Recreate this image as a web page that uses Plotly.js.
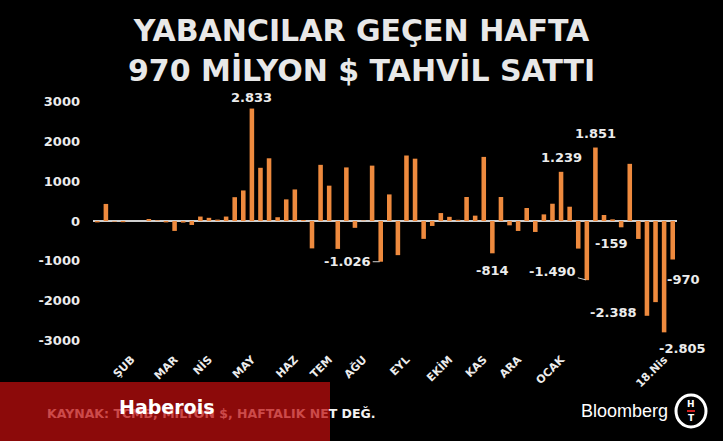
<!DOCTYPE html>
<html>
<head>
<meta charset="utf-8">
<script src="https://cdn.plot.ly/plotly-3.0.1.min.js"></script>
<style>
  html, body { margin: 0; padding: 0; background: #000; }
  #chart { width: 723px; height: 441px; }
</style>
</head>
<body>
<div id="chart"></div>
<script>
// Weekly net foreign bond flows, million $
const values = [
  -35, 430, -15, -30, 0, 0, 50, 15, -35, -250,
  -40, -100, 112, 80, 35, 112, 600, 770, 2833, 1340,
  1580, 95, 545, 795, 25, -690, 1415, 890, -703, 1350,
  -172, 10, 1395, -1026, 670, -860, 1650, 1570, -450, -125,
  200, 105, 30, 605, 135, 1615, -814, 605, -109, -251,
  327, -276, 167, 435, 1239, 360, -695, -1490, 1851, 151,
  42, -159, 1440, -452, -2388, -2044, -2805, -970
];
const tickIdx = [4, 9, 13, 18, 23, 27, 31, 36, 41, 45, 49, 54, 66];
const tickLabels = ['ŞUB', 'MAR', 'NİS', 'MAY', 'HAZ', 'TEM', 'AĞU', 'EYL', 'EKİM', 'KAS', 'ARA', 'OCAK', '18.Nis'];
const yTicks = [3000, 2000, 1000, 0, -1000, -2000, -3000];
const labeledIdx = [18, 33, 46, 54, 57, 58, 61, 64, 66, 67];
const titleLines = ['YABANCILAR GEÇEN HAFTA', '970 MİLYON $ TAHVİL SATTI'];
const sourceText = ['KAYNAK: TCMB, MİLYON $, HAFTALIK NE', 'T DEĞ.'];
const brandText = 'Haberois';
const logoText = 'Bloomberg';

// ---- layout geometry ----
const W = 723, H = 441;
const M = { l: 93, r: 46, t: 92, b: 91 };
const PW = W - M.l - M.r, PH = H - M.t - M.b;
const xp = px => (px - M.l) / PW;
const yp = py => (H - M.b - py) / PH;

const BOLD = 'DejaVu Sans';
const orange = '#ee8a3e';
const fmt = v => (v < 0 ? '-' : '') + String(Math.abs(v)).replace(/\B(?=(\d{3})+(?!\d))/g, '.');

const xs = values.map((_, i) => i);

const trace = {
  type: 'bar',
  x: xs,
  y: values,
  marker: { color: orange, line: { width: 0 } },
  hoverinfo: 'skip'
};

// label placement styles
const labelStyle = {
  18: { yanchor: 'bottom', yshift: 2 },
  33: { arrow: true, ax: -33, ay: 0 },
  46: { yanchor: 'top', yshift: -8 },
  54: { yanchor: 'bottom', yshift: 5 },
  57: { arrow: true, ax: -34, ay: -9 },
  58: { yanchor: 'bottom', yshift: 5 },
  61: { yanchor: 'middle', yshift: -16, xshift: -10 },
  64: { xanchor: 'right', yanchor: 'middle', xshift: -8, yshift: 3 },
  66: { yanchor: 'middle', yshift: -16, xshift: 18 },
  67: { arrow: true, ax: 11, ay: 20 }
};

const labelFont = { family: BOLD, size: 13, color: '#ececec', weight: 'bold' };
const annotations = labeledIdx.map(i => {
  const s = labelStyle[i];
  const a = {
    x: i, y: values[i], xref: 'x', yref: 'y',
    text: fmt(values[i]), font: labelFont
  };
  if (s.arrow) {
    Object.assign(a, {
      showarrow: true, ax: s.ax, ay: s.ay, arrowhead: 0,
      arrowwidth: 1, arrowcolor: '#cfcfcf', standoff: 1, startstandoff: 0
    });
  } else {
    Object.assign(a, {
      showarrow: false,
      xanchor: s.xanchor || 'center', yanchor: s.yanchor || 'middle',
      xshift: s.xshift || 0, yshift: s.yshift || 0
    });
  }
  return a;
});

const titleFont = { family: BOLD, size: 30, color: '#e8e8e8', weight: 'bold' };
// second title line
annotations.push({
  xref: 'paper', yref: 'paper', x: xp(361.5), y: yp(70.5),
  xanchor: 'center', yanchor: 'middle', showarrow: false, borderpad: 0,
  text: titleLines[1], font: titleFont
});

// bottom band texts
annotations.push({
  xref: 'paper', yref: 'paper', x: xp(45), y: yp(413),
  xanchor: 'left', yanchor: 'middle', showarrow: false,
  text: '<span style="color:#cc4a4a">' + sourceText[0] + '</span>' + sourceText[1],
  font: { family: BOLD, size: 12.5, color: '#f2f2f2', weight: 'bold' }
});
annotations.push({
  xref: 'paper', yref: 'paper', x: xp(166), y: yp(407),
  xanchor: 'center', yanchor: 'middle', showarrow: false,
  text: brandText,
  font: { family: BOLD, size: 19, color: '#ffffff', weight: 'bold' }
});
annotations.push({
  xref: 'paper', yref: 'paper', x: xp(670), y: yp(411),
  xanchor: 'right', yanchor: 'middle', showarrow: false,
  text: logoText,
  font: { family: 'Liberation Sans', size: 18, color: '#ffffff' }
});
annotations.push({
  xref: 'paper', yref: 'paper', x: xp(691), y: yp(404),
  xanchor: 'center', yanchor: 'middle', showarrow: false,
  text: 'H', font: { family: BOLD, size: 9, color: '#ffffff', weight: 'bold' }
});
annotations.push({
  xref: 'paper', yref: 'paper', x: xp(691), y: yp(418),
  xanchor: 'center', yanchor: 'middle', showarrow: false,
  text: 'T', font: { family: BOLD, size: 9, color: '#ffffff', weight: 'bold' }
});

const shapes = [
  { type: 'rect', xref: 'paper', yref: 'paper', layer: 'above',
    x0: xp(0), x1: xp(330), y0: yp(441), y1: yp(382),
    fillcolor: '#8c0a0a', line: { width: 0 } },
  { type: 'circle', xref: 'paper', yref: 'paper', layer: 'above',
    x0: xp(676), x1: xp(706), y0: yp(427), y1: yp(395),
    fillcolor: '#000000', line: { color: '#ffffff', width: 3 } },
  { type: 'line', xref: 'paper', yref: 'paper', layer: 'above',
    x0: xp(687), x1: xp(695), y0: yp(411), y1: yp(411),
    line: { color: '#d02020', width: 2 } }
];

const layout = {
  width: W, height: H,
  margin: M,
  paper_bgcolor: '#000000',
  plot_bgcolor: '#000000',
  showlegend: false,
  bargap: 0.47,
  title: {
    text: titleLines[0],
    font: titleFont,
    xref: 'container', x: 0.5, xanchor: 'center',
    yref: 'container', y: 1 - 30 / H, yanchor: 'middle'
  },
  xaxis: {
    range: [-0.5, values.length - 0.5],
    tickmode: 'array', tickvals: tickIdx, ticktext: tickLabels,
    tickangle: -45, showgrid: false, zeroline: false, showline: false,
    ticks: '', tickfont: { family: BOLD, size: 11, color: '#ececec', weight: 'bold' }
  },
  yaxis: {
    range: [-3250, 3250],
    tickmode: 'array', tickvals: yTicks, ticktext: yTicks.map(String),
    showgrid: false, showline: false,
    zeroline: true, zerolinecolor: '#cfcfcf', zerolinewidth: 2,
    ticks: '', ticklabelstandoff: 12,
    tickfont: { family: BOLD, size: 13, color: '#ececec', weight: 'bold' }
  },
  annotations: annotations,
  shapes: shapes
};

Plotly.newPlot('chart', [trace], layout, { displayModeBar: false, staticPlot: true });
</script>
</body>
</html>
